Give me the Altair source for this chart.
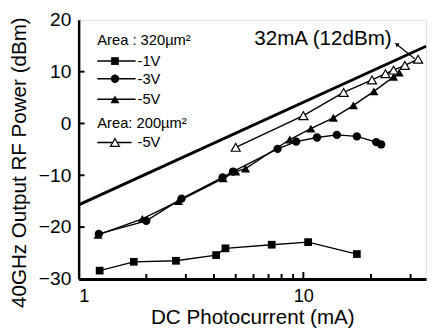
import altair as alt
import pandas as pd

# ---- data ----
sq_x = [1.24, 1.76, 2.71, 4.09, 4.50, 7.23, 10.5, 17.3]          # -1V, 320um2
sq_y = [-28.4, -26.7, -26.5, -25.4, -24.1, -23.4, -22.9, -25.2]

ci_x = [1.23, 2.0, 2.87, 4.37, 4.86, 7.68, 9.29, 11.5, 14.1, 17.3, 21.1, 22.2]   # -3V
ci_y = [-21.3, -18.8, -14.5, -10.4, -9.3, -4.9, -3.5, -2.7, -2.2, -2.5, -3.6, -4.05]

tr_x = [1.22, 1.92, 2.78, 4.4, 5.0, 5.53, 8.7, 10.8, 13.6, 16.7, 20.6, 25.2, 26.7]  # -5V
tr_y = [-21.5, -18.4, -15.0, -10.6, -9.3, -8.7, -3.1, -1.0, 1.1, 3.5, 6.2, 9.0, 9.8]

op_x = [5.0, 10.0, 15.1, 20.2, 23.2, 25.2, 28.3, 32.4]          # -5V, 200um2
op_y = [-4.6, 1.5, 6.0, 8.4, 9.6, 10.3, 11.2, 12.4]

ref_x = [1.0, 35.15]        # thick reference line
ref_y = [-15.7, 14.9]

arrow_x = [26.0, 31.3]      # annotation arrow
arrow_y = [15.3, 12.5]

x_minor = [2, 3, 4, 5, 6, 7, 8, 9, 20, 30]
x_major = [10]
y_ticks = [-20, -10, 0, 10]

FONT = "Liberation Sans"

def frame(xs, ys, name):
    return pd.DataFrame({"x": xs, "y": ys, "s": name})

series_df = pd.concat([frame(sq_x, sq_y, "-1V"), frame(ci_x, ci_y, "-3V"),
                       frame(tr_x, tr_y, "-5V"), frame(op_x, op_y, "-5V200")])

X = alt.X("x:Q",
          scale=alt.Scale(type="log", domain=[1, 35.15], nice=False),
          axis=alt.Axis(values=[1, 10], format="~g", ticks=False, grid=False,
                        labelPadding=8, labelFontSize=18.5, labelFont=FONT,
                        labelColor="black",
                        domainColor="black", domainWidth=3,
                        title="DC Photocurrent (mA)", titleFont=FONT,
                        titleFontSize=21, titleFontWeight="normal",
                        titleColor="black", titleY=39, titleBaseline="middle"))
Y = alt.Y("y:Q",
          scale=alt.Scale(domain=[-30, 20], nice=False),
          axis=alt.Axis(values=[-30, -20, -10, 0, 10, 20], ticks=False, grid=False,
                        labelPadding=8, labelFontSize=19.5, labelFont=FONT,
                        labelColor="black",
                        domainColor="black", domainWidth=2.5,
                        title="40GHz Output RF Power (dBm)", titleFont=FONT,
                        titleFontSize=21, titleFontWeight="normal",
                        titleColor="black", titleX=-60, titleY=145,
                        titleBaseline="middle", titleAlign="center"))

ref = alt.Chart(pd.DataFrame({"x": ref_x, "y": ref_y})).mark_line(
    color="black", strokeWidth=3).encode(x=X, y=Y)

lines = alt.Chart(series_df).mark_line(color="black", strokeWidth=1.4).encode(
    x=X, y=Y, detail="s:N", order="x:Q")

pt_sq = alt.Chart(frame(sq_x, sq_y, "a")).mark_point(
    shape="square", filled=True, color="black", size=62, opacity=1).encode(x=X, y=Y)
pt_ci = alt.Chart(frame(ci_x, ci_y, "b")).mark_point(
    shape="circle", filled=True, color="black", size=72, opacity=1).encode(x=X, y=Y)
pt_tr = alt.Chart(frame(tr_x, tr_y, "c")).mark_point(
    shape="triangle-up", filled=True, color="black", size=85, opacity=1).encode(x=X, y=Y)
pt_op = alt.Chart(frame(op_x, op_y, "d")).mark_point(
    shape="triangle-up", filled=True, fill="white", stroke="black", strokeWidth=1.2,
    size=85, opacity=1).encode(x=X, y=Y)

# inward ticks
xt_minor = alt.Chart(pd.DataFrame({"x": x_minor})).mark_rule(
    color="black", strokeWidth=2).encode(x=X, y=alt.value(264), y2=alt.value(259))
xt_major = alt.Chart(pd.DataFrame({"x": x_major})).mark_rule(
    color="black", strokeWidth=2).encode(x=X, y=alt.value(264), y2=alt.value(257))
yt = alt.Chart(pd.DataFrame({"y": y_ticks})).mark_rule(
    color="black", strokeWidth=2).encode(y=Y, x=alt.value(0), x2=alt.value(6))

# annotation
arrow_df = pd.DataFrame({"x": arrow_x, "y": arrow_y})
arrow_line = alt.Chart(arrow_df).mark_line(color="black", strokeWidth=1.2).encode(x=X, y=Y)
arrow_head = alt.Chart(arrow_df.iloc[[0]]).mark_point(
    shape="triangle-up", filled=True, color="black", size=22, angle=308,
    opacity=1).encode(x=X, y=Y)
label = alt.Chart(pd.DataFrame({"t": ["32mA (12dBm)"]})).mark_text(
    font=FONT, fontSize=21, align="left", baseline="middle", color="black").encode(
    x=alt.value(179), y=alt.value(20), text="t:N")

# manual legend
def ltext(txt, x, y):
    return alt.Chart(pd.DataFrame({"t": [txt]})).mark_text(
        font=FONT, fontSize=15, align="left", baseline="middle", color="black").encode(
        x=alt.value(x), y=alt.value(y), text="t:N")

def lline(y, x2=58):
    return alt.Chart(pd.DataFrame({"t": [0]})).mark_rule(
        color="black", strokeWidth=1.5).encode(x=alt.value(19), x2=alt.value(x2), y=alt.value(y))

def lpt(y, **kw):
    return alt.Chart(pd.DataFrame({"t": [0]})).mark_point(opacity=1, **kw).encode(
        x=alt.value(37), y=alt.value(y))

legend = [
    ltext("Area : 320\u00b5m\u00b2", 19, 21),
    lline(42), lpt(42, shape="square", filled=True, color="black", size=62), ltext("-1V", 60, 42),
    lline(60), lpt(60, shape="circle", filled=True, color="black", size=72), ltext("-3V", 60, 60),
    lline(81), lpt(81, shape="triangle-up", filled=True, color="black", size=85), ltext("-5V", 60, 81),
    ltext("Area: 200\u00b5m\u00b2", 19, 105),
    lline(125, 54), lpt(125, shape="triangle-up", filled=True, fill="white", stroke="black",
                        strokeWidth=1.2, size=85), ltext("-5V", 60, 125),
]

chart = alt.layer(ref, lines, pt_sq, pt_ci, pt_tr, pt_op, xt_minor, xt_major, yt,
                  arrow_line, arrow_head, label, *legend).properties(
    width=354, height=264,
    autosize=alt.AutoSizeParams(type="none"),
    padding={"left": 72, "top": 9, "right": 2, "bottom": 50},
).configure_view(stroke="black", strokeWidth=2).configure(background="white")

chart.save("out.html", embed_options={"renderer": "svg", "actions": False})
